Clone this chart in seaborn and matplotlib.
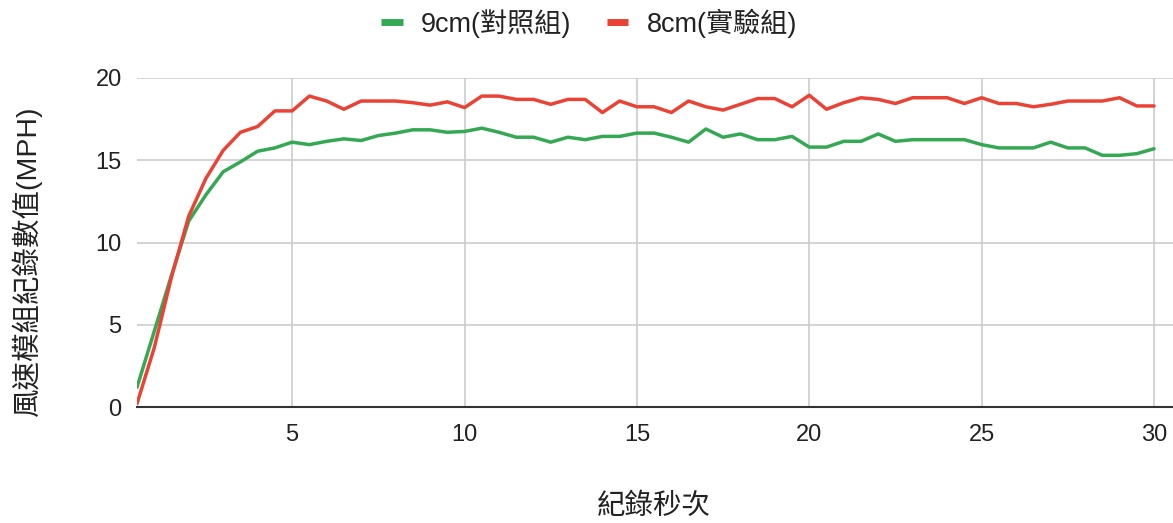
import numpy as np
import pandas as pd
import matplotlib
matplotlib.use("Agg")
import matplotlib.pyplot as plt
from matplotlib.lines import Line2D
import seaborn as sns

seconds = [0.5, 1.0, 1.5, 2.0, 2.5, 3.0, 3.5, 4.0, 4.5, 5.0,
           5.5, 6.0, 6.5, 7.0, 7.5, 8.0, 8.5, 9.0, 9.5, 10.0,
           10.5, 11.0, 11.5, 12.0, 12.5, 13.0, 13.5, 14.0, 14.5, 15.0,
           15.5, 16.0, 16.5, 17.0, 17.5, 18.0, 18.5, 19.0, 19.5, 20.0,
           20.5, 21.0, 21.5, 22.0, 22.5, 23.0, 23.5, 24.0, 24.5, 25.0,
           25.5, 26.0, 26.5, 27.0, 27.5, 28.0, 28.5, 29.0, 29.5, 30.0]

control_9cm = [1.2, 4.6, 8.0, 11.3, 12.9, 14.3, 14.9, 15.55, 15.75, 16.1,
               15.95, 16.15, 16.3, 16.2, 16.5, 16.65, 16.85, 16.85, 16.7, 16.75,
               16.95, 16.7, 16.4, 16.4, 16.1, 16.4, 16.25, 16.45, 16.45, 16.65,
               16.65, 16.4, 16.1, 16.9, 16.4, 16.6, 16.25, 16.25, 16.45, 15.8,
               15.8, 16.15, 16.15, 16.6, 16.15, 16.25, 16.25, 16.25, 16.25, 15.95,
               15.75, 15.75, 15.75, 16.1, 15.75, 15.75, 15.3, 15.3, 15.4, 15.7]

experiment_8cm = [0.2, 3.6, 7.9, 11.6, 13.9, 15.6, 16.7, 17.05, 18.0, 18.0,
                  18.9, 18.6, 18.1, 18.6, 18.6, 18.6, 18.5, 18.35, 18.55, 18.2,
                  18.9, 18.9, 18.7, 18.7, 18.4, 18.7, 18.7, 17.9, 18.6, 18.25,
                  18.25, 17.9, 18.6, 18.25, 18.05, 18.4, 18.75, 18.75, 18.25, 18.95,
                  18.1, 18.5, 18.8, 18.7, 18.45, 18.8, 18.8, 18.8, 18.45, 18.8,
                  18.45, 18.45, 18.25, 18.4, 18.6, 18.6, 18.6, 18.8, 18.3, 18.3]

series_names = ["9cm(對照組)", "8cm(實驗組)"]
series_colors = ["#34a853", "#ea4335"]
x_ticks = [5, 10, 15, 20, 25, 30]
y_ticks = [0, 5, 10, 15, 20]
x_label = "紀錄秒次"
y_label = "風速模組紀錄數值(MPH)"

df = pd.DataFrame({
    "sec": seconds * 2,
    "val": control_9cm + experiment_8cm,
    "series": [series_names[0]] * len(seconds) + [series_names[1]] * len(seconds),
})

sns.set_theme(style="white")
plt.rcParams['font.family'] = ['Liberation Sans', 'Noto Sans CJK TC', 'DejaVu Sans']

fig = plt.figure(figsize=(11.73, 5.23), dpi=100)
ax = fig.add_axes([137 / 1173, 1 - 407 / 523, 1 - 137 / 1173, (407 - 78) / 523])

sns.lineplot(data=df, x="sec", y="val", hue="series", hue_order=series_names,
             palette=series_colors, linewidth=2.5, ax=ax, legend=False, zorder=3)

ax.set_xlim(0.5, 30.55)
ax.set_ylim(0, 20)
ax.set_xticks(x_ticks)
ax.set_yticks(y_ticks)
ax.grid(True, color="#cccccc", linewidth=1.2, zorder=0)
ax.set_axisbelow(True)
for s in ["top", "right", "left"]:
    ax.spines[s].set_visible(False)
ax.spines["bottom"].set_color("#333333")
ax.spines["bottom"].set_linewidth(1.5)
ax.spines["bottom"].set_zorder(4)
ax.tick_params(axis="both", length=0, labelsize=17, colors="#222222")
ax.tick_params(axis="x", pad=12)
ax.tick_params(axis="y", pad=11)

ax.set_xlabel("")
ax.set_ylabel("")
fig.text(654 / 1173, 1 - 507 / 523, x_label, ha="center", va="center",
         fontsize=20.5, color="#222222")
fig.text(27 / 1173, 1 - 261 / 523, y_label, ha="center", va="center",
         rotation=90, fontsize=20.5, color="#222222")

handles = [Line2D([0], [0], color=c, linewidth=5, solid_capstyle="butt") for c in series_colors]
fig.legend(handles, series_names, loc="center", bbox_to_anchor=(589 / 1173, 1 - 23 / 523),
           ncol=2, frameon=False, fontsize=19.5, handlelength=0.8, handletextpad=0.67,
           columnspacing=1.3, labelcolor="#222222")

fig.savefig("out.png", dpi=100, facecolor="white")
